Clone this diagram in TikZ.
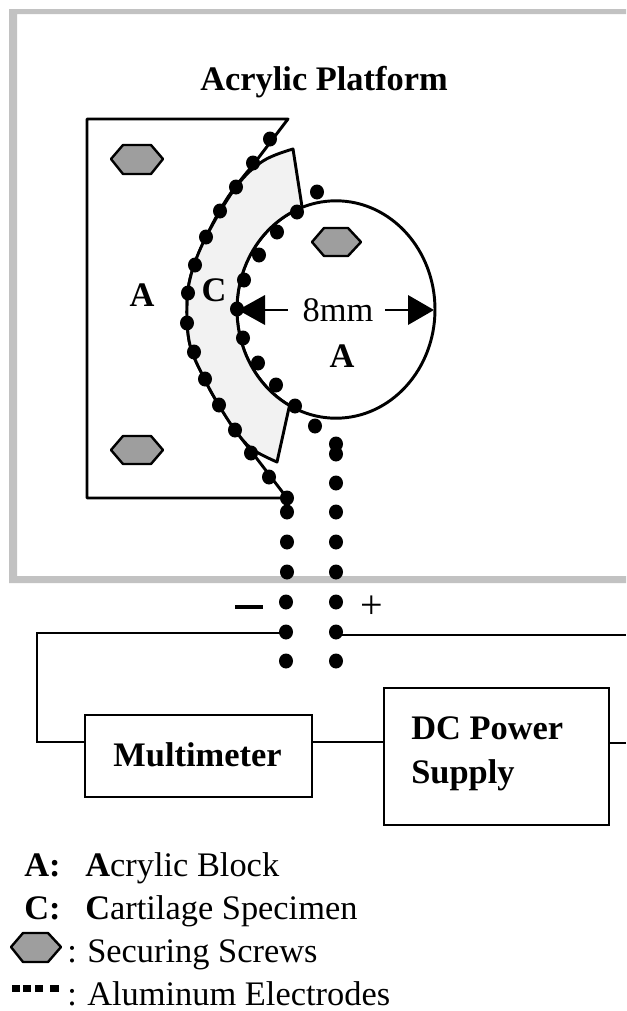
\documentclass[tikz,border=0pt]{standalone}
\usepackage{fontspec}
\setmainfont{Liberation Serif}
\begin{document}
\begin{tikzpicture}[x=0.75pt,y=-0.75pt,
  wire/.style={line width=2.2pt,black},
  outline/.style={line width=2.2pt,black,line join=round},
  labelbox/.style={draw=black,line width=2.2pt,inner sep=0pt},
  txt/.style={font=\fontsize{25.8}{26}\selectfont,inner sep=0pt},
  btxt/.style={font=\fontsize{25.8}{26}\selectfont\bfseries,inner sep=0pt},
  hexa/.style={draw=black,line width=1.8pt,fill=black!38,line join=round},
  dot/.style={fill=black,draw=none}]
\useasboundingbox (0,0) rectangle (626,1011);
\fill[white] (0,0) rectangle (626,1011);
% platform frame
\fill[black!24] (626,9) -- (9,9) -- (9,583) -- (626,583) -- (626,576) -- (17,576) -- (17,14) -- (626,14) -- cycle;
% left block
\draw[outline]
  (288,119) -- (87,119) -- (87,498) -- (287,498) -- (238,434)
  -- plot[smooth,tension=0.6] coordinates {(238,434) (220,407) (205,380) (190,345) (187,307) (191,275) (206,237) (228,197) (253,165)} -- cycle;
% right block
\draw[outline] (336,309.5) ellipse[x radius=99,y radius=108.7];
% cartilage
\draw[outline,fill=black!5]
  plot[smooth,tension=0.6] coordinates {(293,149) (263,161) (236,187) (206,237) (191,275) (187,307) (190,345) (205,380) (220,407) (235,430) (252,449) (277,462)}
  -- (289.5,405.5) arc[x radius=99,y radius=108.7,start angle=118,end angle=250] -- cycle;
% screws
\draw[hexa] (111,159) -- (123,145) -- (151,145) -- (163,159) -- (151,174) -- (123,174) -- cycle;
\draw[hexa] (111,450) -- (123,436) -- (151,436) -- (163,450) -- (151,464) -- (123,464) -- cycle;
\draw[hexa] (312,242) -- (324,228) -- (348,228) -- (361,242) -- (348,256) -- (324,256) -- cycle;
% electrodes
\foreach \p in {(270,139),(253,163),(236,187),(220,211),(206,237),(195,265),(188,293),(187,323),(194,352),(205,379),(219,405),(235,430),(251,453),(269,477),(287,498),(287,512),
  (287,542),(287,572),(286,602),(286,632),(286,661),
  (317,192),(297,212),(277,232),(259,255),(244,280),(237,309),(243,338),(258,363),(276,385),(295,406),(315,426),(336,444),(336,454),(336,483),(336,512),(336,542),(336,572),(336,602),(336,632),(336,661)}
  \fill[dot] \p ellipse[x radius=7,y radius=7.5];
% dimension
\fill (238,310) -- (265,295) -- (265,325) -- cycle;
\draw[line width=2.2pt] (262,310) -- (288,310);
\fill (434,310) -- (408,295) -- (408,325) -- cycle;
\draw[line width=2.2pt] (385,310) -- (410,310);
% labels
\node[btxt,anchor=base] (title) at (324,90) {Acrylic Platform};
\node[btxt,anchor=base] (al) at (142,306) {A};
\node[btxt,anchor=base] (cl) at (214,301) {C};
\node[btxt,anchor=base] (ar) at (342,367) {A};
\node[txt,anchor=base] (dim) at (338,321) {8mm};
% polarity
\draw[line width=3pt] (235,607) -- (263,607);
\node[inner sep=0pt,font=\fontsize{30}{30}\selectfont] (plus) at (372,607) {+};
% instruments
\node[labelbox,minimum width=227*0.75pt,minimum height=82*0.75pt] (mm) at (198.5,756) {};
\node[labelbox,minimum width=225*0.75pt,minimum height=137*0.75pt] (dc) at (496.5,756.5) {};
\node[btxt,anchor=base] (mmt) at (197.5,766) {Multimeter};
\node[btxt,anchor=base west] (dct1) at (411,739) {DC Power};
\node[btxt,anchor=base west] (dct2) at (411,783) {Supply};
\coordinate (lw) at (286,633);
\coordinate (rw) at (336,635);
\coordinate (re) at (626,635);
\coordinate (de) at (626,743);
\coordinate (ml) at (mm.west|-0,742);
\coordinate (mr) at (mm.east|-0,742);
\coordinate (dl) at (dc.west|-0,742);
\coordinate (dr) at (dc.east|-0,743);
\draw[wire] (lw) -- (37,633) -- (37,742) -- (ml);
\draw[wire] (mr) -- (dl);
\draw[wire] (dr) -- (de);
\draw[wire] (rw) -- (re);
% legend
\node[btxt,anchor=base west] (l1a) at (24,876) {A:};
\node[txt,anchor=base west] (l1b) at (85,876) {\textbf{A}crylic Block};
\node[btxt,anchor=base west] (l2a) at (24,919) {C:};
\node[txt,anchor=base west] (l2b) at (85,919) {\textbf{C}artilage Specimen};
\draw[hexa] (11,947) -- (23,933) -- (48,933) -- (61,947) -- (48,962) -- (23,962) -- cycle;
\node[txt,anchor=base west] (l3c) at (67,962) {:};
\node[txt,anchor=base west] (l3) at (87,962) {Securing Screws};
\foreach \x/\w in {12/8,23/8,35/8,50/9} \fill (\x,985) rectangle ++(\w,7);
\node[txt,anchor=base west] (l4c) at (67,1005) {:};
\node[txt,anchor=base west] (l4) at (87,1005) {Aluminum Electrodes};
\end{tikzpicture}
\end{document}
